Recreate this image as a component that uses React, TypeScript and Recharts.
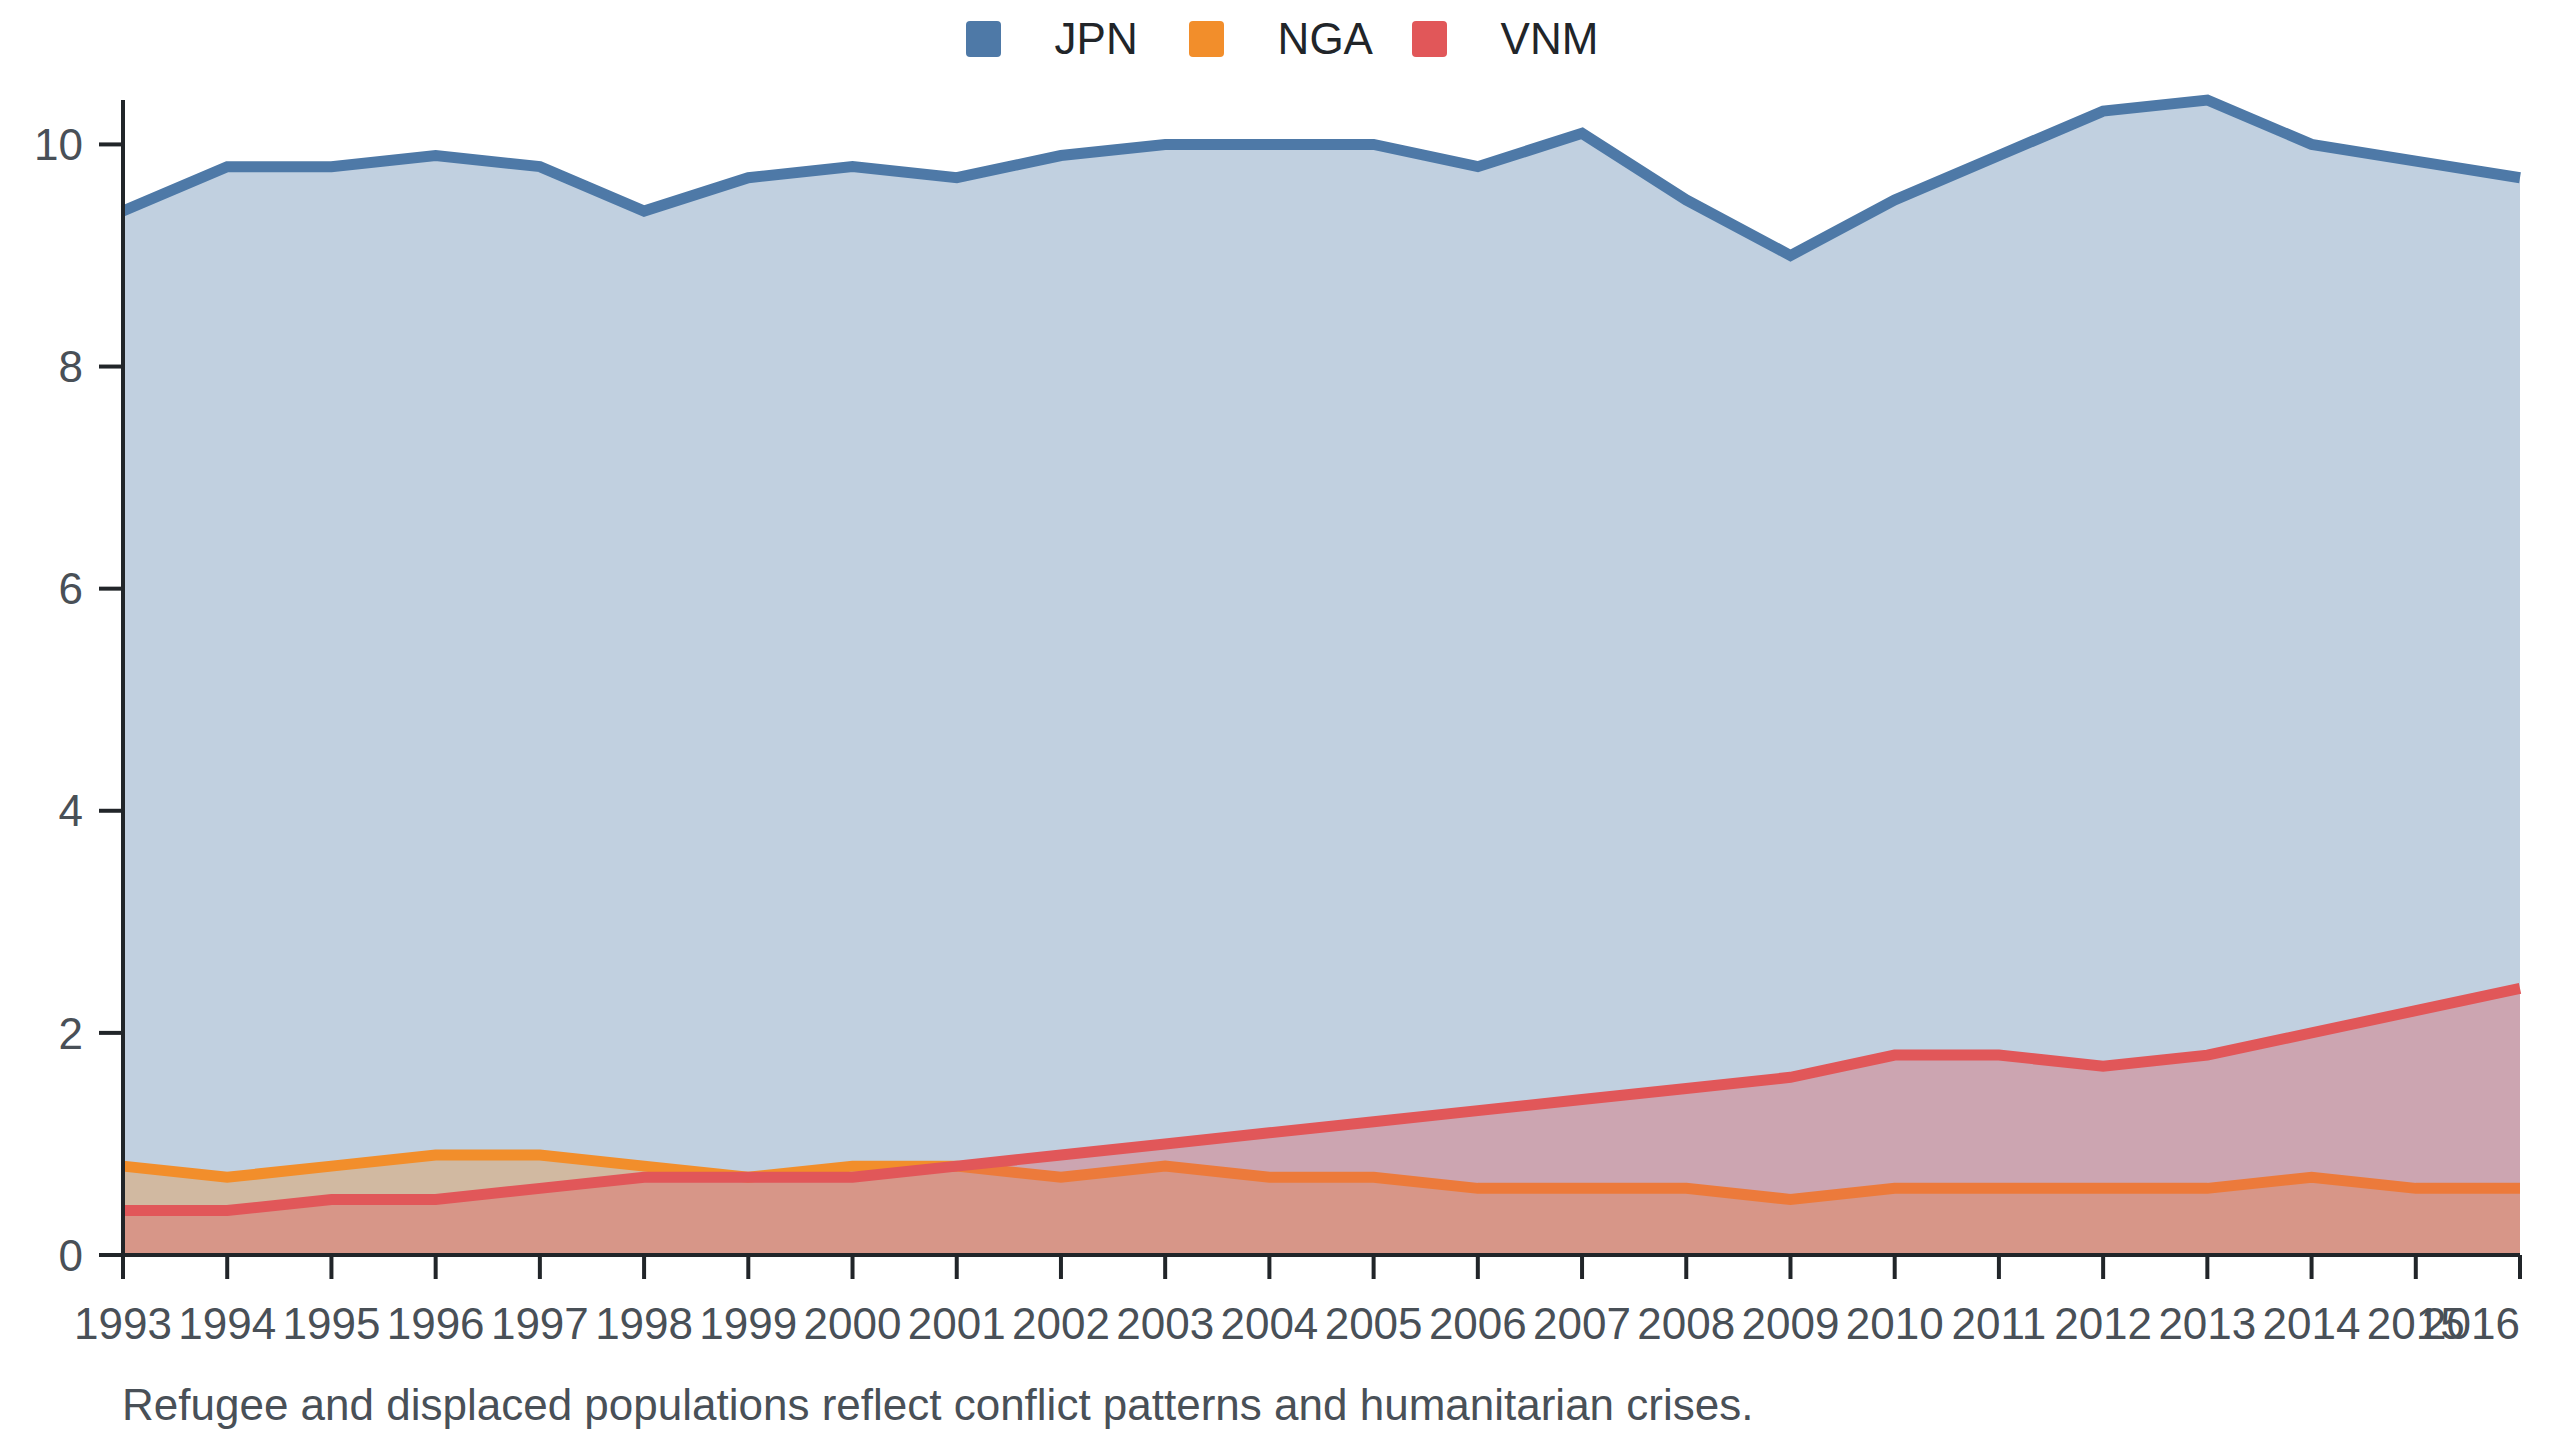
import React from 'react';
import { AreaChart, Area, XAxis, YAxis, Legend } from 'recharts';

const years = ['1993', '1994', '1995', '1996', '1997', '1998', '1999', '2000', '2001', '2002', '2003', '2004', '2005', '2006', '2007', '2008', '2009', '2010', '2011', '2012', '2013', '2014', '2015', '2016'];
const jpn = [9.4, 9.8, 9.8, 9.9, 9.8, 9.4, 9.7, 9.8, 9.7, 9.9, 10.0, 10.0, 10.0, 9.8, 10.1, 9.5, 9.0, 9.5, 9.9, 10.3, 10.4, 10.0, 9.85, 9.7];
const nga = [0.8, 0.7, 0.8, 0.9, 0.9, 0.8, 0.7, 0.8, 0.8, 0.7, 0.8, 0.7, 0.7, 0.6, 0.6, 0.6, 0.5, 0.6, 0.6, 0.6, 0.6, 0.7, 0.6, 0.6];
const vnm = [0.4, 0.4, 0.5, 0.5, 0.6, 0.7, 0.7, 0.7, 0.8, 0.9, 1.0, 1.1, 1.2, 1.3, 1.4, 1.5, 1.6, 1.8, 1.8, 1.7, 1.8, 2.0, 2.2, 2.4];
const yTicks = [0, 2, 4, 6, 8, 10];
const seriesNames = ['JPN', 'NGA', 'VNM'];
const seriesColors = ['#4e79a7', '#f28e2b', '#e15759'];
const caption = 'Refugee and displaced populations reflect conflict patterns and humanitarian crises.';

const data = years.map((y, i) => ({ year: y, JPN: jpn[i], NGA: nga[i], VNM: vnm[i] }));

const FONT = '"Liberation Sans", Arial, Helvetica, sans-serif';

const XTick = (props: any) => {
  const { x, y, payload, index } = props;
  const last = index === years.length - 1;
  return (
    <text
      x={x}
      y={y}
      dy="0.71em"
      textAnchor={last ? 'end' : 'middle'}
      fontSize={44}
      fontFamily={FONT}
      fill="#495057"
    >
      {payload.value}
    </text>
  );
};

const LegendContent = () => (
  <div
    style={{
      width: 2560,
      height: 100,
      display: 'flex',
      justifyContent: 'center',
      alignItems: 'flex-start',
      paddingTop: 21,
      paddingLeft: 4,
      boxSizing: 'border-box',
      fontFamily: FONT,
    }}
  >
    {seriesNames.map((n, i) => (
      <div
        key={n}
        style={{
          display: 'flex',
          alignItems: 'center',
          width: i < seriesNames.length - 1 ? 223 : undefined,
          height: 36,
        }}
      >
        <div style={{ width: 35, height: 36, borderRadius: 4, background: seriesColors[i], marginRight: 54, flexShrink: 0 }} />
        <span style={{ fontSize: 44, lineHeight: '36px', color: '#212529' }}>{n}</span>
      </div>
    ))}
  </div>
);

export default function App() {
  return (
    <div style={{ position: 'absolute', left: 0, top: 0, width: 2560, height: 1440, background: '#fff' }}>
      <AreaChart
        width={2560}
        height={1360}
        data={data}
        margin={{ top: 0, right: 40, left: 0, bottom: 5 }}
      >
        <Legend
          verticalAlign="top"
          align="center"
          content={<LegendContent />}
          wrapperStyle={{ top: 0, left: 0, width: 2560, height: 100 }}
        />
        <XAxis
          dataKey="year"
          interval={0}
          height={100}
          tickSize={24}
          tickMargin={29}
          axisLine={{ stroke: '#212529', strokeWidth: 4 }}
          tickLine={{ stroke: '#212529', strokeWidth: 4 }}
          tick={<XTick />}
        />
        <YAxis
          width={123}
          domain={[0, 'dataMax']}
          ticks={yTicks}
          tickSize={24}
          tickMargin={16}
          axisLine={{ stroke: '#212529', strokeWidth: 4 }}
          tickLine={{ stroke: '#212529', strokeWidth: 4 }}
          tick={{ fontSize: 44, fontFamily: FONT, fill: '#495057' }}
        />
        {seriesNames.map((n, i) => (
          <Area
            key={n}
            type="linear"
            dataKey={n}
            stroke={seriesColors[i]}
            strokeWidth={11}
            fill={seriesColors[i]}
            fillOpacity={0.35}
            dot={false}
            activeDot={false}
            isAnimationActive={false}
          />
        ))}
      </AreaChart>
      <div
        style={{
          position: 'absolute',
          left: 122,
          top: 1383,
          fontSize: 44,
          lineHeight: '44px',
          fontFamily: FONT,
          color: '#495057',
          whiteSpace: 'nowrap',
        }}
      >
        {caption}
      </div>
    </div>
  );
}
